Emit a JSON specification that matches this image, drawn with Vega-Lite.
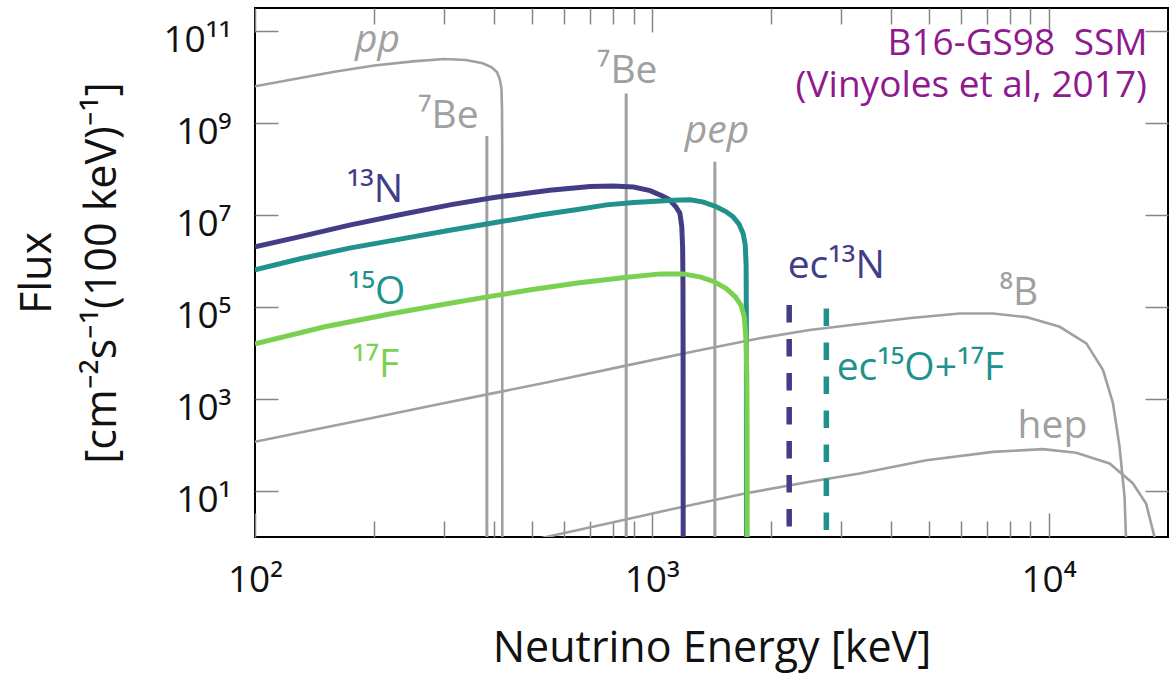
{
  "$schema": "https://vega.github.io/schema/vega-lite/v6.json",
  "width": 913,
  "height": 529,
  "autosize": "none",
  "padding": {"left": 255, "top": 8, "right": 8, "bottom": 140},
  "background": "white",
  "config": {
    "view": {"stroke": "#000000", "strokeWidth": 2},
    "font": "Open Sans",
    "axis": {
      "labelFont": "Open Sans",
      "titleFont": "Open Sans",
      "labelColor": "#111111",
      "titleColor": "#111111",
      "titleFontWeight": "normal",
      "tickColor": "#858585",
      "tickWidth": 1.5,
      "domain": false,
      "grid": false,
      "labelFlush": false,
      "labelOverlap": false,
      "zindex": 1
    }
  },
  "datasets": {
    "spectra": [
      {"src": "pp", "E": 100, "F": 6.31e9},
      {"src": "pp", "E": 130, "F": 9.55e9},
      {"src": "pp", "E": 160, "F": 1.318e10},
      {"src": "pp", "E": 200, "F": 1.778e10},
      {"src": "pp", "E": 250, "F": 2.188e10},
      {"src": "pp", "E": 300, "F": 2.455e10},
      {"src": "pp", "E": 340, "F": 2.344e10},
      {"src": "pp", "E": 375, "F": 1.995e10},
      {"src": "pp", "E": 395, "F": 1.622e10},
      {"src": "pp", "E": 407, "F": 1.288e10},
      {"src": "pp", "E": 414, "F": 8.91e9},
      {"src": "pp", "E": 418, "F": 5.62e9},
      {"src": "pp", "E": 419.3, "F": 2.0e9},
      {"src": "pp", "E": 419.8, "F": 3.16e8},
      {"src": "pp", "E": 420, "F": 0.1},
      {"src": "8B", "E": 100, "F": 117.5},
      {"src": "8B", "E": 150, "F": 239.9},
      {"src": "8B", "E": 200, "F": 398.1},
      {"src": "8B", "E": 280, "F": 724.4},
      {"src": "8B", "E": 385, "F": 1259},
      {"src": "8B", "E": 550, "F": 2344},
      {"src": "8B", "E": 855, "F": 5248},
      {"src": "8B", "E": 1300, "F": 11220},
      {"src": "8B", "E": 1871, "F": 20890},
      {"src": "8B", "E": 2500, "F": 31620},
      {"src": "8B", "E": 3342, "F": 42660},
      {"src": "8B", "E": 4500, "F": 57540},
      {"src": "8B", "E": 5970, "F": 72440},
      {"src": "8B", "E": 7244, "F": 72440},
      {"src": "8B", "E": 8790, "F": 60260},
      {"src": "8B", "E": 10670, "F": 37150},
      {"src": "8B", "E": 12450, "F": 16220},
      {"src": "8B", "E": 13720, "F": 4266},
      {"src": "8B", "E": 14530, "F": 812.8},
      {"src": "8B", "E": 15100, "F": 91.2},
      {"src": "8B", "E": 15540, "F": 7.59},
      {"src": "8B", "E": 15750, "F": 0.3},
      {"src": "hep", "E": 500, "F": 0.85},
      {"src": "hep", "E": 542, "F": 1.0},
      {"src": "hep", "E": 800, "F": 2.09},
      {"src": "hep", "E": 1200, "F": 4.57},
      {"src": "hep", "E": 1729, "F": 8.91},
      {"src": "hep", "E": 2500, "F": 15.85},
      {"src": "hep", "E": 3342, "F": 23.99},
      {"src": "hep", "E": 4920, "F": 46.77},
      {"src": "hep", "E": 7244, "F": 70.79},
      {"src": "hep", "E": 9680, "F": 81.28},
      {"src": "hep", "E": 11740, "F": 67.61},
      {"src": "hep", "E": 14250, "F": 39.81},
      {"src": "hep", "E": 16300, "F": 14.79},
      {"src": "hep", "E": 17610, "F": 5.37},
      {"src": "hep", "E": 18490, "F": 1.0},
      {"src": "hep", "E": 18700, "F": 0.3},
      {"src": "13N", "E": 100, "F": 2.042e6},
      {"src": "13N", "E": 130, "F": 3.388e6},
      {"src": "13N", "E": 173, "F": 6.026e6},
      {"src": "13N", "E": 230, "F": 1.0e7},
      {"src": "13N", "E": 310, "F": 1.66e7},
      {"src": "13N", "E": 400, "F": 2.399e7},
      {"src": "13N", "E": 553, "F": 3.467e7},
      {"src": "13N", "E": 700, "F": 4.169e7},
      {"src": "13N", "E": 800, "F": 4.266e7},
      {"src": "13N", "E": 900, "F": 4.074e7},
      {"src": "13N", "E": 990, "F": 3.388e7},
      {"src": "13N", "E": 1060, "F": 2.63e7},
      {"src": "13N", "E": 1109, "F": 2.138e7},
      {"src": "13N", "E": 1150, "F": 1.514e7},
      {"src": "13N", "E": 1177, "F": 1.096e7},
      {"src": "13N", "E": 1190, "F": 5.623e6},
      {"src": "13N", "E": 1196, "F": 1.995e6},
      {"src": "13N", "E": 1198.5, "F": 3.162e5},
      {"src": "13N", "E": 1199.2, "F": 1.0e4},
      {"src": "13N", "E": 1200, "F": 0.1},
      {"src": "15O", "E": 100, "F": 6.457e5},
      {"src": "15O", "E": 130, "F": 1.122e6},
      {"src": "15O", "E": 173, "F": 1.905e6},
      {"src": "15O", "E": 230, "F": 2.951e6},
      {"src": "15O", "E": 310, "F": 4.677e6},
      {"src": "15O", "E": 400, "F": 6.761e6},
      {"src": "15O", "E": 522, "F": 1.0e7},
      {"src": "15O", "E": 650, "F": 1.318e7},
      {"src": "15O", "E": 769, "F": 1.66e7},
      {"src": "15O", "E": 900, "F": 1.862e7},
      {"src": "15O", "E": 1133, "F": 2.089e7},
      {"src": "15O", "E": 1250, "F": 2.138e7},
      {"src": "15O", "E": 1350, "F": 1.905e7},
      {"src": "15O", "E": 1455, "F": 1.514e7},
      {"src": "15O", "E": 1540, "F": 1.175e7},
      {"src": "15O", "E": 1603, "F": 9.12e6},
      {"src": "15O", "E": 1660, "F": 6.31e6},
      {"src": "15O", "E": 1699, "F": 3.981e6},
      {"src": "15O", "E": 1720, "F": 2.239e6},
      {"src": "15O", "E": 1729, "F": 7.943e5},
      {"src": "15O", "E": 1731.5, "F": 3.162e4},
      {"src": "15O", "E": 1732.2, "F": 100},
      {"src": "15O", "E": 1733, "F": 0.1},
      {"src": "17F", "E": 100, "F": 1.585e4},
      {"src": "17F", "E": 150, "F": 3.715e4},
      {"src": "17F", "E": 222, "F": 7.244e4},
      {"src": "17F", "E": 300, "F": 1.148e5},
      {"src": "17F", "E": 385, "F": 1.66e5},
      {"src": "17F", "E": 500, "F": 2.399e5},
      {"src": "17F", "E": 650, "F": 3.311e5},
      {"src": "17F", "E": 855, "F": 4.365e5},
      {"src": "17F", "E": 1052, "F": 5.248e5},
      {"src": "17F", "E": 1200, "F": 5.248e5},
      {"src": "17F", "E": 1330, "F": 4.467e5},
      {"src": "17F", "E": 1436, "F": 3.548e5},
      {"src": "17F", "E": 1540, "F": 2.512e5},
      {"src": "17F", "E": 1625, "F": 1.66e5},
      {"src": "17F", "E": 1680, "F": 1.072e5},
      {"src": "17F", "E": 1711, "F": 6.026e4},
      {"src": "17F", "E": 1729, "F": 1.778e4},
      {"src": "17F", "E": 1736, "F": 3162},
      {"src": "17F", "E": 1739, "F": 199.5},
      {"src": "17F", "E": 1740.5, "F": 0.1}
    ],
    "lines": [
      {"src": "7Be", "E": 384, "F": 5.2e8},
      {"src": "7Be", "E": 862, "F": 4.4e9},
      {"src": "pep", "E": 1442, "F": 1.44e8}
    ],
    "ec": [
      {"src": "13N", "E": 2220, "F": 1.1e5},
      {"src": "15O", "E": 2754, "F": 9.3e4}
    ],
    "labels": [
      {"label": "pp", "src": "pp", "E": 178.6, "F": 3.49e10},
      {"label": "⁷Be", "src": "7Be", "E": 257.4, "F": 7.78e8},
      {"label": "⁷Be", "src": "7Be", "E": 727, "F": 7.41e9},
      {"label": "pep", "src": "pep", "E": 1211, "F": 3.67e8},
      {"label": "¹³N", "src": "13N", "E": 170.2, "F": 1.92e7},
      {"label": "¹⁵O", "src": "15O", "E": 171.5, "F": 1.16e5},
      {"label": "¹⁷F", "src": "17F", "E": 175.5, "F": 3000},
      {"label": "ec¹³N", "src": "13N", "E": 2201, "F": 4.27e5},
      {"label": "ec¹⁵O+¹⁷F", "src": "15O", "E": 2924, "F": 2590},
      {"label": "⁸B", "src": "8B", "E": 7525, "F": 1.1e5},
      {"label": "hep", "src": "hep", "E": 8356, "F": 142},
      {"label": "B16-GS98\u2002SSM", "src": "Title", "E": 17760, "F": 3.0e10},
      {"label": "(Vinyoles et al, 2017)", "src": "Title", "E": 17700, "F": 3.73e9}
    ]
  },
  "layer": [
    {
      "data": {"name": "spectra"},
      "transform": [{"filter": "datum.src == 'pp' || datum.src == '8B' || datum.src == 'hep'"}],
      "mark": {"type": "line", "strokeWidth": 2.6, "clip": true},
      "encoding": {
        "x": {
          "field": "E", "type": "quantitative",
          "scale": {"type": "log", "domain": [100, 20000], "nice": false},
          "axis": {
            "orient": "bottom",
            "values": [100, 200, 300, 400, 500, 600, 700, 800, 900, 1000, 2000, 3000, 4000, 5000, 6000, 7000, 8000, 9000, 10000],
            "labelExpr": "abs(log(datum.value)/LN10 - round(log(datum.value)/LN10)) < 0.000001 ? ['10⁰','10¹','10²','10³','10⁴'][round(log(datum.value)/LN10)] : ''",
            "tickSize": {"condition": {"test": "abs(log(datum.value)/LN10 - round(log(datum.value)/LN10)) < 0.000001", "value": -24}, "value": -16},
            "labelPadding": 49,
            "labelFontSize": 37,
            "title": "Neutrino Energy [keV]",
            "titleFontSize": 43,
            "titlePadding": 21
          }
        },
        "y": {
          "field": "F", "type": "quantitative",
          "scale": {"type": "log", "domain": [1, 316227766017], "nice": false},
          "axis": {
            "orient": "left",
            "values": [10, 1000, 100000, 10000000, 1000000000, 100000000000],
            "labelExpr": "['10⁰','10¹','10²','10³','10⁴','10⁵','10⁶','10⁷','10⁸','10⁹','10¹⁰','10¹¹'][round(log(datum.value)/LN10)]",
            "tickSize": -23,
            "labelPadding": 47,
            "labelFontSize": 37,
            "labelOffset": 9.5,
            "labelBaseline": "middle",
            "title": ["Flux", "[cm⁻²s⁻¹(100 keV)⁻¹]"],
            "titleFontSize": 43,
            "titlePadding": 38,
            "titleLineHeight": 65
          }
        },
        "color": {
          "field": "src", "type": "nominal", "legend": null,
          "scale": {"domain": ["pp", "7Be", "pep", "8B", "hep", "13N", "15O", "17F", "Title"], "range": ["#a0a0a0", "#a0a0a0", "#a0a0a0", "#a0a0a0", "#a0a0a0", "#433d87", "#21918c", "#7ad151", "#8e1a8e"]}
        }
      }
    },
    {
      "data": {"name": "lines"},
      "mark": {"type": "rule", "strokeWidth": 3, "clip": true},
      "encoding": {
        "x": {
          "field": "E", "type": "quantitative",
          "scale": {"type": "log", "domain": [100, 20000], "nice": false},
          "axis": {
            "orient": "top",
            "values": [100, 200, 300, 400, 500, 600, 700, 800, 900, 1000, 2000, 3000, 4000, 5000, 6000, 7000, 8000, 9000, 10000],
            "labels": false,
            "tickSize": {"condition": {"test": "abs(log(datum.value)/LN10 - round(log(datum.value)/LN10)) < 0.000001", "value": -24}, "value": -16},
            "title": null
          }
        },
        "y": {
          "field": "F", "type": "quantitative",
          "scale": {"type": "log", "domain": [1, 316227766017], "nice": false},
          "axis": {
            "orient": "right",
            "values": [10, 1000, 100000, 10000000, 1000000000, 100000000000],
            "labels": false,
            "tickSize": -23,
            "title": null
          }
        },
        "y2": {"datum": 1},
        "color": {
          "field": "src", "type": "nominal", "legend": null,
          "scale": {"domain": ["pp", "7Be", "pep", "8B", "hep", "13N", "15O", "17F", "Title"], "range": ["#a0a0a0", "#a0a0a0", "#a0a0a0", "#a0a0a0", "#a0a0a0", "#433d87", "#21918c", "#7ad151", "#8e1a8e"]}
        }
      }
    },
    {
      "data": {"name": "spectra"},
      "transform": [{"filter": "datum.src == '13N' || datum.src == '15O' || datum.src == '17F'"}],
      "mark": {"type": "line", "strokeWidth": 5, "clip": true},
      "encoding": {
        "x": {"field": "E", "type": "quantitative", "scale": {"type": "log", "domain": [100, 20000], "nice": false}, "axis": null},
        "y": {"field": "F", "type": "quantitative", "scale": {"type": "log", "domain": [1, 316227766017], "nice": false}, "axis": null},
        "color": {
          "field": "src", "type": "nominal", "legend": null,
          "scale": {"domain": ["pp", "7Be", "pep", "8B", "hep", "13N", "15O", "17F", "Title"], "range": ["#a0a0a0", "#a0a0a0", "#a0a0a0", "#a0a0a0", "#a0a0a0", "#433d87", "#21918c", "#7ad151", "#8e1a8e"]}
        }
      }
    },
    {
      "data": {"name": "ec"},
      "mark": {"type": "rule", "strokeWidth": 5.5, "strokeDash": [17.5, 16.5], "clip": true},
      "encoding": {
        "x": {"field": "E", "type": "quantitative", "scale": {"type": "log", "domain": [100, 20000], "nice": false}, "axis": null},
        "y": {"field": "F", "type": "quantitative", "scale": {"type": "log", "domain": [1, 316227766017], "nice": false}, "axis": null},
        "y2": {"datum": 1},
        "color": {
          "field": "src", "type": "nominal", "legend": null,
          "scale": {"domain": ["pp", "7Be", "pep", "8B", "hep", "13N", "15O", "17F", "Title"], "range": ["#a0a0a0", "#a0a0a0", "#a0a0a0", "#a0a0a0", "#a0a0a0", "#433d87", "#21918c", "#7ad151", "#8e1a8e"]}
        }
      }
    },
    {
      "data": {"name": "labels"},
      "transform": [{"filter": "datum.src != 'Title' && datum.label != 'pp' && datum.label != 'pep'"}],
      "mark": {"type": "text", "font": "Open Sans", "fontSize": 39, "align": "left", "baseline": "alphabetic"},
      "encoding": {
        "x": {"field": "E", "type": "quantitative", "scale": {"type": "log", "domain": [100, 20000], "nice": false}, "axis": null},
        "y": {"field": "F", "type": "quantitative", "scale": {"type": "log", "domain": [1, 316227766017], "nice": false}, "axis": null},
        "text": {"field": "label"},
        "color": {
          "field": "src", "type": "nominal", "legend": null,
          "scale": {"domain": ["pp", "7Be", "pep", "8B", "hep", "13N", "15O", "17F", "Title"], "range": ["#a0a0a0", "#a0a0a0", "#a0a0a0", "#a0a0a0", "#a0a0a0", "#433d87", "#21918c", "#7ad151", "#8e1a8e"]}
        }
      }
    },
    {
      "data": {"name": "labels"},
      "transform": [{"filter": "datum.label == 'pp' || datum.label == 'pep'"}],
      "mark": {"type": "text", "font": "Open Sans", "fontSize": 39, "fontStyle": "italic", "align": "left", "baseline": "alphabetic"},
      "encoding": {
        "x": {"field": "E", "type": "quantitative", "scale": {"type": "log", "domain": [100, 20000], "nice": false}, "axis": null},
        "y": {"field": "F", "type": "quantitative", "scale": {"type": "log", "domain": [1, 316227766017], "nice": false}, "axis": null},
        "text": {"field": "label"},
        "color": {
          "field": "src", "type": "nominal", "legend": null,
          "scale": {"domain": ["pp", "7Be", "pep", "8B", "hep", "13N", "15O", "17F", "Title"], "range": ["#a0a0a0", "#a0a0a0", "#a0a0a0", "#a0a0a0", "#a0a0a0", "#433d87", "#21918c", "#7ad151", "#8e1a8e"]}
        }
      }
    },
    {
      "data": {"name": "labels"},
      "transform": [{"filter": "datum.src == 'Title'"}],
      "mark": {"type": "text", "font": "Open Sans", "fontSize": 37, "align": "right", "baseline": "alphabetic"},
      "encoding": {
        "x": {"field": "E", "type": "quantitative", "scale": {"type": "log", "domain": [100, 20000], "nice": false}, "axis": null},
        "y": {"field": "F", "type": "quantitative", "scale": {"type": "log", "domain": [1, 316227766017], "nice": false}, "axis": null},
        "text": {"field": "label"},
        "color": {
          "field": "src", "type": "nominal", "legend": null,
          "scale": {"domain": ["pp", "7Be", "pep", "8B", "hep", "13N", "15O", "17F", "Title"], "range": ["#a0a0a0", "#a0a0a0", "#a0a0a0", "#a0a0a0", "#a0a0a0", "#433d87", "#21918c", "#7ad151", "#8e1a8e"]}
        }
      }
    }
  ],
  "resolve": {"axis": {"x": "independent", "y": "independent"}}
}
